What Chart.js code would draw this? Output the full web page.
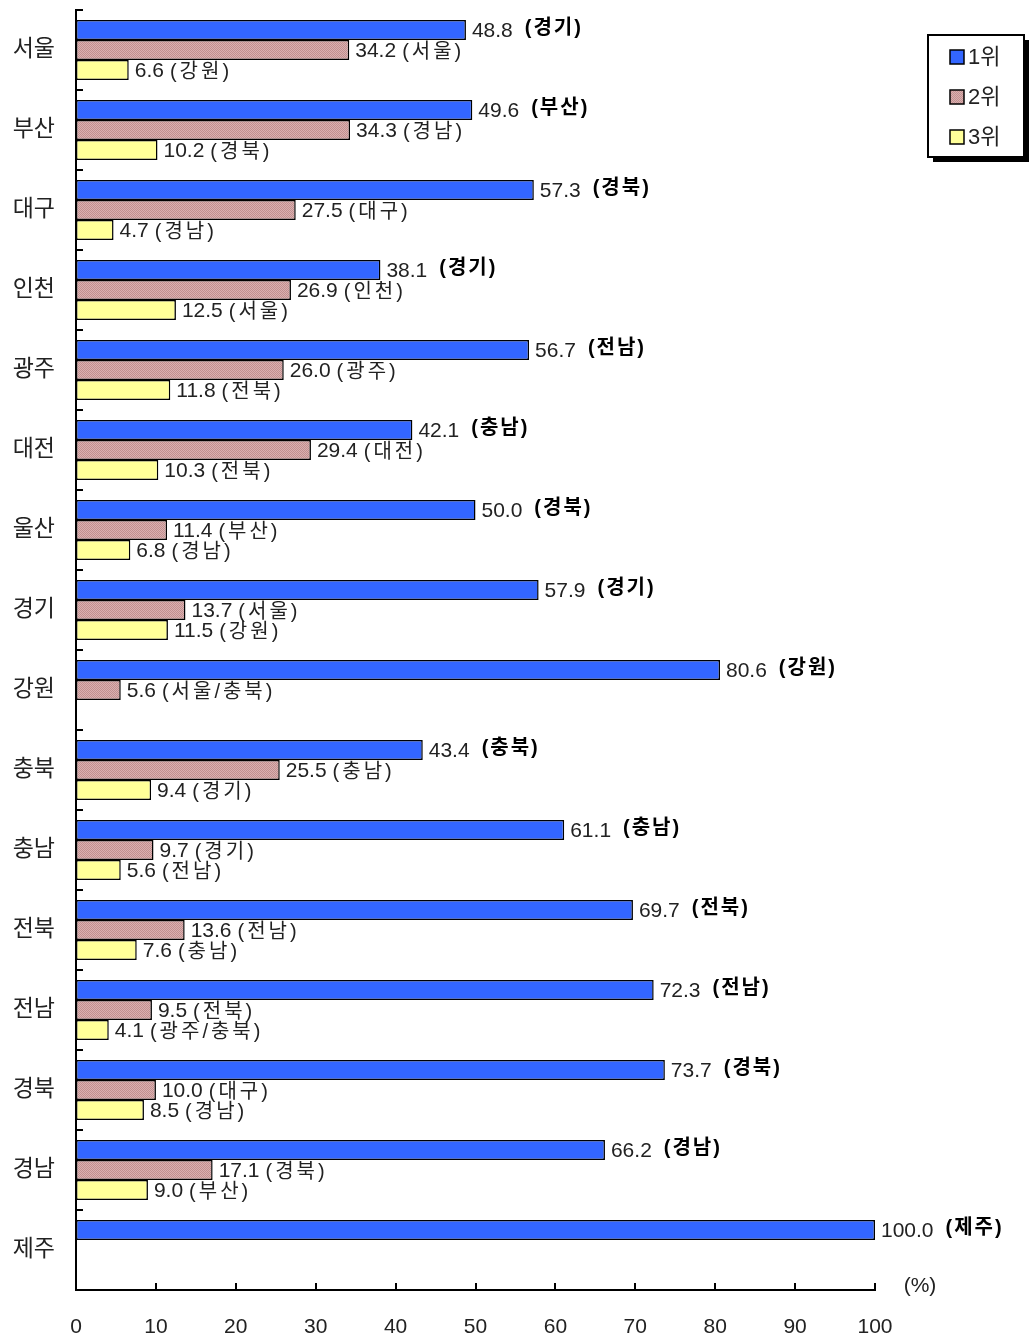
<!DOCTYPE html>
<html lang="ko">
<head>
<meta charset="utf-8">
<title>지역별 1·2·3위 비율</title>
<script src="https://cdn.jsdelivr.net/npm/chart.js@4.4.1/dist/chart.umd.min.js"></script>
<style>
    html, body { margin: 0; padding: 0; background: #fff; }
    #wrap { width: 1029px; height: 1337px; }
</style>
</head>
<body>
<div id="wrap"><canvas id="chart" width="1029" height="1337"></canvas></div>
<script>
// 데이터
const regions = ['서울', '부산', '대구', '인천', '광주', '대전', '울산', '경기',
    '강원', '충북', '충남', '전북', '전남', '경북', '경남', '제주'];
const rank1 = [48.8, 49.6, 57.3, 38.1, 56.7, 42.1, 50.0, 57.9, 80.6, 43.4, 61.1, 69.7, 72.3, 73.7, 66.2, 100.0];
const rank2 = [34.2, 34.3, 27.5, 26.9, 26.0, 29.4, 11.4, 13.7, 5.6, 25.5, 9.7, 13.6, 9.5, 10.0, 17.1, null];
const rank3 = [6.6, 10.2, 4.7, 12.5, 11.8, 10.3, 6.8, 11.5, null, 9.4, 5.6, 7.6, 4.1, 8.5, 9.0, null];
const rank1From = ['경기', '부산', '경북', '경기', '전남', '충남', '경북', '경기', '강원', '충북', '충남', '전북', '전남', '경북', '경남', '제주'];
const rank2From = ['서울', '경남', '대구', '인천', '광주', '대전', '부산', '서울', '서울/충북', '충남', '경기', '전남', '전북', '대구', '경북', null];
const rank3From = ['강원', '경북', '경남', '서울', '전북', '전북', '경남', '강원', null, '경기', '전남', '충남', '광주/충북', '경남', '부산', null];
const seriesNames = ['1위', '2위', '3위'];
const xMin = 0, xMax = 100, xStep = 10;
const unitLabel = '(%)';

const FONT = '"Liberation Sans", "Noto Sans CJK KR", sans-serif';
const TEXT = '#222';

// 2위 막대의 점무늬
function makeDots(ctx) {
    const c = document.createElement('canvas');
    c.width = 2; c.height = 2;
    const g = c.getContext('2d');
    g.fillStyle = '#dbb0b0';
    g.fillRect(0, 0, 2, 2);
    g.fillStyle = '#c09090';
    g.fillRect(0, 0, 1, 1);
    g.fillRect(1, 1, 1, 1);
    return ctx.createPattern(c, 'repeat');
}

const canvas = document.getElementById('chart');
const ctx = canvas.getContext('2d');
const dots = makeDots(ctx);

const decorPlugin = {
    id: 'decor',
    afterDatasetsDraw(chart) {
        const c = chart.ctx;
        const area = chart.chartArea;
        const xs = chart.scales.x, ys = chart.scales.y;
        c.save();
        c.strokeStyle = '#000';
        c.lineWidth = 2;
        // 안쪽 눈금
        xs.ticks.forEach(t => {
            if (t.value === xMin) return;
            const px = Math.round(xs.getPixelForValue(t.value));
            c.beginPath(); c.moveTo(px, area.bottom); c.lineTo(px, area.bottom - 7); c.stroke();
        });
        const band = ys.getPixelForValue(1) - ys.getPixelForValue(0);
        for (let i = 0; i <= regions.length; i++) {
            const py = Math.round(ys.getPixelForValue(i) - band / 2);
            c.beginPath(); c.moveTo(area.left, py); c.lineTo(area.left + 7, py); c.stroke();
        }

        // 값 + 지역 라벨
        const froms = [rank1From, rank2From, rank3From];
        c.textBaseline = 'middle';
        c.textAlign = 'left';
        chart.data.datasets.forEach((ds, di) => {
            const meta = chart.getDatasetMeta(di);
            meta.data.forEach((bar, i) => {
                const v = ds.data[i];
                if (v == null) return;
                const txt = v.toFixed(1);
                c.letterSpacing = '0px';
                c.font = '21px ' + FONT;
                c.fillStyle = TEXT;
                const tx = bar.x + 6;
                c.fillText(txt, tx, bar.y + 1);
                const w = c.measureText(txt).width;
                if (di === 0) {
                    c.font = 'bold 20px ' + FONT;
                    c.letterSpacing = '2px';
                    c.fillStyle = '#000';
                    c.fillText('(' + froms[di][i] + ')', tx + w + 12, bar.y - 2);
                } else {
                    c.font = '20px ' + FONT;
                    c.letterSpacing = '3px';
                    c.fillText('(' + froms[di][i] + ')', tx + w + 6, bar.y + 2);
                }
            });
        });
        c.letterSpacing = '0px';

        // 단위
        c.font = '21px ' + FONT;
        c.fillStyle = TEXT;
        c.textAlign = 'center';
        c.fillText(unitLabel, area.right + 45, area.bottom - 4);
        c.restore();
    },
    afterDraw(chart) {
        // 범례 상자 (그림자 포함)
        const c = chart.ctx;
        const bx = chart.width - 101, by = 35, bw = 96, bh = 122;
        c.save();
        c.fillStyle = '#000';
        c.fillRect(bx + 5, by + 5, bw, bh);
        c.fillStyle = '#fff';
        c.fillRect(bx, by, bw, bh);
        c.strokeStyle = '#000';
        c.lineWidth = 2;
        c.strokeRect(bx, by, bw, bh);
        c.textBaseline = 'middle';
        c.textAlign = 'left';
        c.font = '22px ' + FONT;
        chart.data.datasets.forEach((ds, di) => {
            const cy = by + 22 + di * 40;
            c.fillStyle = ds.backgroundColor;
            c.fillRect(bx + 22, cy - 7, 14, 14);
            c.lineWidth = 1.5;
            c.strokeRect(bx + 22, cy - 7, 14, 14);
            c.fillStyle = TEXT;
            c.fillText(ds.label, bx + 40, cy + 1);
        });
        c.restore();
    }
};

const barStyle = {
    borderColor: '#000',
    borderWidth: 1.5,
    borderSkipped: false,
    categoryPercentage: 0.75,
    barPercentage: 1.0
};

new Chart(ctx, {
    type: 'bar',
    data: {
        labels: regions,
        datasets: [
            Object.assign({ label: seriesNames[0], data: rank1, backgroundColor: '#3366ff' }, barStyle),
            Object.assign({ label: seriesNames[1], data: rank2, backgroundColor: dots }, barStyle),
            Object.assign({ label: seriesNames[2], data: rank3, backgroundColor: '#ffff99' }, barStyle)
        ]
    },
    options: {
        responsive: false,
        animation: false,
        indexAxis: 'y',
        layout: { padding: { top: 10, right: 154, left: 0, bottom: 0 } },
        plugins: {
            legend: { display: false },
            tooltip: { enabled: false }
        },
        scales: {
            x: {
                min: xMin,
                max: xMax,
                ticks: { stepSize: xStep, padding: 17, color: TEXT, font: { family: FONT, size: 21 } },
                grid: { display: false },
                border: { display: true, color: '#000', width: 2 },
                afterFit(scale) { scale.height = 47; }
            },
            y: {
                ticks: { padding: 13, color: TEXT, font: { family: FONT, size: 23 } },
                grid: { display: false },
                border: { display: true, color: '#000', width: 2 },
                afterFit(scale) {
                    scale.width = 76;
                    scale.paddingTop = 0;
                    scale.paddingBottom = 0;
                }
            }
        }
    },
    plugins: [decorPlugin]
});
</script>
</body>
</html>
